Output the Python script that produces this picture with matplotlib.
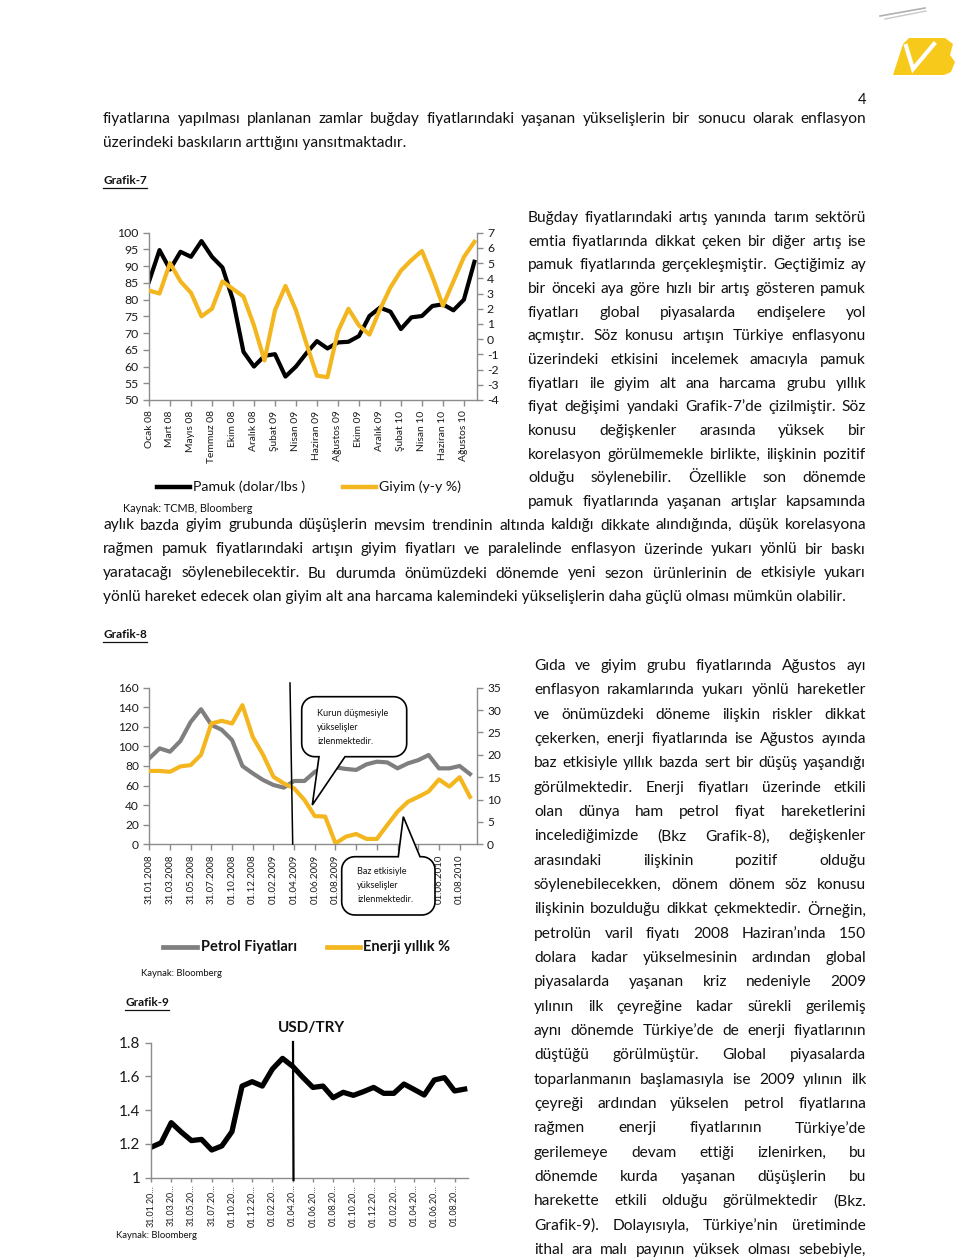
import numpy as np
import matplotlib
matplotlib.use('Agg')
import matplotlib.pyplot as plt
from matplotlib.patches import Polygon

# ---------------- data ----------------
months = ['Ocak 08', 'Şubat 08', 'Mart 08', 'Nisan 08', 'Mayıs 08', 'Haziran 08',
          'Temmuz 08', 'Ağustos 08', 'Ekim 08', 'Kasım 08', 'Aralık 08', 'Ocak 09',
          'Şubat 09', 'Mart 09', 'Nisan 09', 'Mayıs 09', 'Haziran 09', 'Temmuz 09',
          'Ağustos 09', 'Eylül 09', 'Ekim 09', 'Kasım 09', 'Aralık 09', 'Ocak 10',
          'Şubat 10', 'Mart 10', 'Nisan 10', 'Mayıs 10', 'Haziran 10', 'Temmuz 10',
          'Ağustos 10', 'Eylül 10']
pamuk = [85.4, 94.8, 89.0, 94.3, 92.8, 97.5, 92.8, 89.6, 79.9, 64.4, 60.0, 63.2,
         63.7, 57.0, 60.0, 64.0, 67.6, 65.4, 67.2, 67.4, 69.1, 75.1, 77.6, 76.4,
         71.2, 74.7, 75.1, 78.1, 78.6, 76.8, 80.0, 91.3]
giyim = [3.2, 3.0, 5.0, 3.8, 3.05, 1.5, 2.0, 3.8, 3.3, 2.8, 0.9, -1.4,
         1.9, 3.5, 1.9, -0.3, -2.4, -2.5, 0.5, 2.0, 0.9, 0.3, 1.95, 3.4,
         4.5, 5.2, 5.8, 4.1, 2.2, 3.8, 5.4, 6.4]

dates = ['31.01.2008', '29.02.2008', '31.03.2008', '30.04.2008', '31.05.2008', '30.06.2008',
         '31.07.2008', '29.08.2008', '01.10.2008', '01.11.2008', '01.12.2008', '01.01.2009',
         '01.02.2009', '01.03.2009', '01.04.2009', '01.05.2009', '01.06.2009', '01.07.2009',
         '01.08.2009', '01.09.2009', '01.10.2009', '01.11.2009', '01.12.2009', '01.01.2010',
         '01.02.2010', '01.03.2010', '01.04.2010', '01.05.2010', '01.06.2010', '01.07.2010',
         '01.08.2010', '01.09.2010']
petrol = [87.8, 98.0, 94.6, 105.5, 125.0, 138.0, 122.0, 117.0, 106.5, 80.0, 72.5, 65.7,
          60.6, 57.9, 64.7, 64.7, 74.0, 79.0, 78.6, 77.0, 76.0, 81.7, 84.4, 83.7,
          77.6, 82.7, 86.0, 91.2, 77.6, 77.6, 80.0, 71.8]
enerji = [16.4, 16.4, 16.2, 17.4, 17.7, 20.0, 27.0, 27.6, 27.0, 31.1, 24.0, 20.0,
          15.1, 13.6, 12.5, 9.9, 6.3, 6.2, 0.2, 1.7, 2.3, 1.2, 1.2, 4.3,
          7.3, 9.5, 10.6, 11.8, 14.5, 12.9, 15.0, 10.6]
# labels hidden behind the callout box in the source
hidden8 = ['01.10.2009', '01.12.2009', '01.02.2010', '01.04.2010']

usdtry = [1.18, 1.207, 1.326, 1.27, 1.22, 1.227, 1.164, 1.188, 1.273, 1.543, 1.569, 1.543,
          1.644, 1.707, 1.66, 1.595, 1.535, 1.543, 1.474, 1.506, 1.488, 1.51, 1.535, 1.5,
          1.5, 1.555, 1.523, 1.49, 1.579, 1.593, 1.514, 1.525]

top_lines = ['fiyatlarına yapılması planlanan zamlar buğday fiyatlarındaki yaşanan yükselişlerin bir sonucu olarak enflasyon',
             'üzerindeki baskıların arttığını yansıtmaktadır.']
para1 = ['Buğday fiyatlarındaki artış yanında tarım sektörü',
         'emtia fiyatlarında dikkat çeken bir diğer artış ise',
         'pamuk fiyatlarında gerçekleşmiştir. Geçtiğimiz ay',
         'bir önceki aya göre hızlı bir artış gösteren pamuk',
         'fiyatları global piyasalarda endişelere yol',
         'açmıştır. Söz konusu artışın Türkiye enflasyonu',
         'üzerindeki etkisini incelemek amacıyla pamuk',
         'fiyatları ile giyim alt ana harcama grubu yıllık',
         'fiyat değişimi yandaki Grafik-7’de çizilmiştir. Söz',
         'konusu değişkenler arasında yüksek bir',
         'korelasyon görülmemekle birlikte, ilişkinin pozitif',
         'olduğu söylenebilir. Özellikle son dönemde',
         'pamuk fiyatlarında yaşanan artışlar kapsamında']
para1_wide = ['aylık bazda giyim grubunda düşüşlerin mevsim trendinin altında kaldığı dikkate alındığında, düşük korelasyona',
              'rağmen pamuk fiyatlarındaki artışın giyim fiyatları ve paralelinde enflasyon üzerinde yukarı yönlü bir baskı',
              'yaratacağı söylenebilecektir. Bu durumda önümüzdeki dönemde yeni sezon ürünlerinin de etkisiyle yukarı',
              'yönlü hareket edecek olan giyim alt ana harcama kalemindeki yükselişlerin daha güçlü olması mümkün olabilir.']
para2 = ['Gıda ve giyim grubu fiyatlarında Ağustos ayı',
         'enflasyon rakamlarında yukarı yönlü hareketler',
         've önümüzdeki döneme ilişkin riskler dikkat',
         'çekerken, enerji fiyatlarında ise Ağustos ayında',
         'baz etkisiyle yıllık bazda sert bir düşüş yaşandığı',
         'görülmektedir. Enerji fiyatları üzerinde etkili',
         'olan dünya ham petrol fiyat hareketlerini',
         'incelediğimizde (Bkz Grafik-8), değişkenler',
         'arasındaki ilişkinin pozitif olduğu',
         'söylenebilecekken, dönem dönem söz konusu',
         'ilişkinin bozulduğu dikkat çekmektedir. Örneğin,',
         'petrolün varil fiyatı 2008 Haziran’ında 150',
         'dolara kadar yükselmesinin ardından global',
         'piyasalarda yaşanan kriz nedeniyle 2009',
         'yılının ilk çeyreğine kadar sürekli gerilemiş',
         'aynı dönemde Türkiye’de de enerji fiyatlarının',
         'düştüğü görülmüştür. Global piyasalarda',
         'toparlanmanın başlamasıyla ise 2009 yılının ilk',
         'çeyreği ardından yükselen petrol fiyatlarına',
         'rağmen enerji fiyatlarının Türkiye’de',
         'gerilemeye devam ettiği izlenirken, bu',
         'dönemde kurda yaşanan düşüşlerin bu',
         'harekette etkili olduğu görülmektedir (Bkz.',
         'Grafik-9). Dolayısıyla, Türkiye’nin üretiminde',
         'ithal ara malı payının yüksek olması sebebiyle,']

# ---------------- page setup ----------------
W, H = 960, 1260
YEL = '#F3B61F'
AXC = '#8C8C8C'
TXT = '#111111'
BODY_SIZE = 11.2
plt.rcParams['font.family'] = ['Lato', 'DejaVu Sans']
plt.rcParams['axes.unicode_minus'] = False

fig = plt.figure(figsize=(W / 100, H / 100), dpi=100)
fig.patch.set_facecolor('white')
rend = fig.canvas.get_renderer()


def add_ax(l, t, r, b):
    return fig.add_axes([l / W, 1 - b / H, (r - l) / W, (b - t) / H])


ov = fig.add_axes([0, 0, 1, 1], zorder=5)
ov.set_xlim(0, W)
ov.set_ylim(H, 0)
ov.axis('off')


def line_text(s, x0, x1, y, size=BODY_SIZE, justify=True, **kw):
    if not justify:
        ov.text(x0, y, s, fontsize=size, ha='left', va='center', color=TXT, **kw)
        return
    words = s.split()
    ts = [ov.text(0, y, w, fontsize=size, ha='left', va='center', color=TXT, **kw) for w in words]
    ws = [t.get_window_extent(rend).width for t in ts]
    gap = (x1 - x0 - sum(ws)) / max(len(ws) - 1, 1)
    x = x0
    for t, w in zip(ts, ws):
        t.set_x(x)
        x += w + gap


def heading(s, x, y, size=9):
    t = ov.text(x, y, s, fontsize=size, fontweight='bold', ha='left', va='center', color=TXT)
    w = t.get_window_extent(rend).width
    ov.plot([x, x + w], [y + 7, y + 7], color=TXT, lw=0.9)


def style(ax, left=True, right=False):
    ax.spines['top'].set_visible(False)
    ax.spines['left'].set_visible(left)
    ax.spines['right'].set_visible(right)
    for s in ['left', 'right', 'bottom']:
        ax.spines[s].set_color(AXC)
        ax.spines[s].set_linewidth(1.0)
    ax.tick_params(colors=AXC, labelcolor='#1a1a1a', length=4, width=1.0, direction='out')
    ax.patch.set_alpha(0)


# ---------------- text ----------------
ov.text(866, 100, '4', fontsize=10.5, ha='right', va='center', color=TXT)
line_text(top_lines[0], 103, 866, 119)
line_text(top_lines[1], 103, 866, 143, justify=False)
heading('Grafik-7', 103, 181, 8.5)

for i, s in enumerate(para1):
    line_text(s, 528, 866, 218 + i * 23.65)
for i, s in enumerate(para1_wide):
    line_text(s, 103, 866, 525.5 + i * 24, justify=(i < 3))

heading('Grafik-8', 103, 635, 8.5)
for i, s in enumerate(para2):
    line_text(s, 534, 866, 666 + i * 24.33)

# ---------------- Grafik-7 ----------------
x = np.arange(len(months))
ax7 = add_ax(149, 232.7, 476.5, 400)
ax7.plot(x, pamuk, color='black', lw=3.0)
ax7b = ax7.twinx()
ax7b.plot(x, giyim, color=YEL, lw=3.0)
ax7.set_xlim(0, 31.2)
ax7.set_ylim(50, 100)
ax7.set_yticks(range(50, 101, 5))
ax7b.set_ylim(-4, 7)
ax7b.set_yticks(range(-4, 8))
ax7.set_xticks(x[::2])
ax7.set_xticklabels(months[::2], rotation=90, fontsize=7.4)
style(ax7)
style(ax7b, left=False, right=True)
ax7b.spines['bottom'].set_visible(False)
ax7.tick_params(axis='y', labelsize=8.8)
ax7b.tick_params(axis='y', labelsize=8.8)

ov.plot([157, 190], [487, 487], color='black', lw=3.2)
ov.text(193, 487, 'Pamuk (dolar/lbs )', fontsize=10.2, va='center', color=TXT)
ov.plot([343, 376], [487, 487], color=YEL, lw=3.2)
ov.text(379, 487, 'Giyim (y-y %)', fontsize=10.2, va='center', color=TXT)
ov.text(123, 508, 'Kaynak: TCMB, Bloomberg', fontsize=7.8, va='center', color=TXT)

# ---------------- Grafik-8 ----------------
x8 = np.arange(len(dates))
ax8 = add_ax(149.3, 687.7, 476.7, 844.3)
ax8.plot(x8, petrol, color='#7F7F7F', lw=3.0)
ax8b = ax8.twinx()
ax8b.plot(x8, enerji, color=YEL, lw=3.0)
ax8.set_xlim(0, 31.65)
ax8.set_ylim(0, 160)
ax8.set_yticks(range(0, 161, 20))
ax8b.set_ylim(0, 35)
ax8b.set_yticks(range(0, 36, 5))
ax8.set_xticks(x8[::2])
ax8.set_xticklabels(['' if d in hidden8 else d for d in dates[::2]], rotation=90, fontsize=7.0)
style(ax8)
style(ax8b, left=False, right=True)
ax8b.spines['bottom'].set_visible(False)
ax8.tick_params(axis='y', labelsize=8.6)
ax8b.tick_params(axis='y', labelsize=8.6)

# vertical marker line and callouts
ov.plot([290, 292.7], [683, 844], color='black', lw=1.1)


def callout(x0, y0, x1, y1, r, base, tip, side):
    pts = []

    def arc(cx, cy, a0, a1):
        for a in np.linspace(a0, a1, 10):
            pts.append((cx + r * np.cos(a), cy + r * np.sin(a)))

    arc(x0 + r, y0 + r, np.pi, 1.5 * np.pi)
    if side == 'top':
        pts.extend([(base[0], y0), tip, (base[1], y0)])
    arc(x1 - r, y0 + r, 1.5 * np.pi, 2 * np.pi)
    arc(x1 - r, y1 - r, 0, 0.5 * np.pi)
    if side == 'bottom':
        pts.extend([(base[1], y1), tip, (base[0], y1)])
    arc(x0 + r, y1 - r, 0.5 * np.pi, np.pi)
    ov.add_patch(Polygon(pts, closed=True, fc='white', ec='black', lw=1.2))


callout(301.7, 696.7, 406.7, 756.7, 13, (319, 345), (312.3, 805), 'bottom')
for i, s in enumerate(['Kurun düşmesiyle', 'yükselişler', 'izlenmektedir.']):
    ov.text(317, 713 + i * 14, s, fontsize=6.6, va='center', color=TXT)
callout(341.7, 856.7, 435, 915, 13, (398.3, 420), (403.3, 816.7), 'top')
for i, s in enumerate(['Baz etkisiyle', 'yükselişler', 'izlenmektedir.']):
    ov.text(357, 872 + i * 14, s, fontsize=6.6, va='center', color=TXT)

ov.plot([163, 197], [947, 947], color='#7F7F7F', lw=3.4)
ov.text(201, 947, 'Petrol Fiyatları', fontsize=10.5, fontweight='bold', va='center', color=TXT)
ov.plot([327, 360], [947, 947], color=YEL, lw=3.4)
ov.text(363, 947, 'Enerji yıllık %', fontsize=10.5, fontweight='bold', va='center', color=TXT)
ov.text(141, 973, 'Kaynak: Bloomberg', fontsize=6.8, va='center', color=TXT)

# ---------------- Grafik-9 ----------------
heading('Grafik-9', 125, 1003, 8.5)
ov.text(311, 1028, 'USD/TRY', fontsize=11, fontweight='bold', ha='center', va='center', color=TXT)
x9 = np.arange(len(usdtry))
ax9 = add_ax(151, 1042.7, 467.7, 1177.7)
ax9.plot(x9, usdtry, color='black', lw=3.8)
ax9.set_xlim(0, 31.3)
ax9.set_ylim(1, 1.8)
ax9.set_yticks([1, 1.2, 1.4, 1.6, 1.8])
ax9.set_yticklabels(['1', '1.2', '1.4', '1.6', '1.8'])
ax9.set_xticks(x9[::2])
ax9.set_xticklabels([d[:8] + '…' for d in dates[::2]], rotation=90, fontsize=6.4)
style(ax9)
ax9.tick_params(axis='y', labelsize=11)
ax9.tick_params(axis='x', length=3, pad=2)
ov.plot([293, 293.5], [1042, 1180], color='black', lw=1.6)
ov.text(116, 1236, 'Kaynak: Bloomberg', fontsize=6.8, va='center', color=TXT)

# ---------------- logo ----------------
ov.add_patch(Polygon([(893, 75), (903, 44), (909, 38), (945, 38), (953, 44), (950, 55),
                      (955, 62), (951, 72), (944, 75)], closed=True, fc='#F7C91A', ec='none'))
ov.plot([906, 913, 934], [46, 69, 44], color='white', lw=3.0, solid_joinstyle='miter')
ov.plot([880, 925], [16, 8], color='#B0B0B0', lw=1.2)
ov.plot([885, 926], [19, 11], color='#C8C8C8', lw=1.0)

fig.savefig('out.png', dpi=100, facecolor='white')
